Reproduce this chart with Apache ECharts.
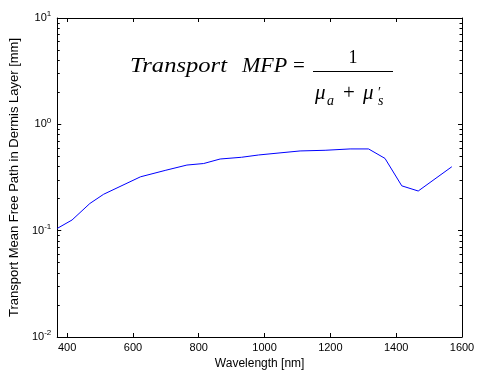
<!DOCTYPE html>
<html>
<head>
<meta charset="utf-8">
<script src="https://cdn.jsdelivr.net/npm/echarts@6/dist/echarts.min.js"></script>
<style>
  html, body { margin: 0; padding: 0; background: #fff; }
  #chart { width: 480px; height: 377px; }
</style>
</head>
<body>
<div id="chart"></div>
<script>
// Transport mean free path in the dermis layer versus wavelength
const wavelengths = [370, 415, 469, 511, 623, 700, 764, 815, 865, 930, 982, 1050, 1108, 1184, 1260, 1316, 1366, 1417, 1467, 1569];
const mfpValues  = [0.105, 0.126, 0.180, 0.220, 0.321, 0.370, 0.414, 0.428, 0.472, 0.490, 0.515, 0.540, 0.562, 0.570, 0.587, 0.587, 0.478, 0.264, 0.236, 0.399];

const xTicks = [400, 600, 800, 1000, 1200, 1400, 1600];
const yMajorTicks = [0.01, 0.1, 1, 10];
const yMinorTicks = [];
[0.01, 0.1, 1].forEach(function (d) {
  for (let k = 2; k <= 9; k++) yMinorTicks.push(+(d * k).toPrecision(3));
});

const FONT = '"Liberation Sans", Arial, Helvetica, sans-serif';
const SERIF = '"Liberation Serif", "Times New Roman", serif';
const black = '#000';

function powLabel(v) {
  const e = Math.round(Math.log10(v));
  return '{b|10}{e|' + e + '}';
}

const line = { show: true, lineStyle: { color: black, width: 1 } };

function yAxisDef(pos, ticks, len, labels, drawLine) {
  return {
    type: 'log', logBase: 10, min: 0.01, max: 10, position: pos,
    gridIndex: 0,
    axisLine: drawLine ? line : { show: false },
    axisTick: { show: true, inside: true, length: len, customValues: ticks, lineStyle: { color: black, width: 1 } },
    axisLabel: labels ? {
      show: true, margin: 6, customValues: yMajorTicks,
      formatter: powLabel,
      rich: {
        b: { fontFamily: FONT, fontSize: 11, color: black },
        e: { fontFamily: FONT, fontSize: 8, color: black, padding: [0, 0, 8, 0] }
      }
    } : { show: false },
    splitLine: { show: false },
    minorTick: { show: false }
  };
}

const chart = echarts.init(document.getElementById('chart'), null, { renderer: 'canvas' });

chart.setOption({
  animation: false,
  backgroundColor: '#fff',
  grid: { left: 57, right: 18, top: 18, bottom: 40, containLabel: false },
  xAxis: [
    {
      type: 'value', min: 370, max: 1600, position: 'bottom',
      name: 'Wavelength [nm]', nameLocation: 'middle', nameGap: 21,
      nameTextStyle: { fontFamily: FONT, fontSize: 12, color: black },
      axisLine: line,
      axisTick: { show: true, inside: true, length: 4, customValues: xTicks, lineStyle: { color: black } },
      axisLabel: {
        show: true, margin: 5, customValues: xTicks,
        formatter: function (v) { return String(v); },
        fontFamily: FONT, fontSize: 11, color: black
      },
      splitLine: { show: false }
    },
    {
      type: 'value', min: 370, max: 1600, position: 'top',
      axisLine: line,
      axisTick: { show: true, inside: true, length: 4, customValues: xTicks, lineStyle: { color: black } },
      axisLabel: { show: false },
      splitLine: { show: false }
    }
  ],
  yAxis: [
    Object.assign(yAxisDef('left', yMajorTicks, 4, true, true), {
      name: 'Transport Mean Free Path in Dermis Layer [mm]',
      nameLocation: 'middle', nameGap: 32,
      nameTextStyle: { fontFamily: FONT, fontSize: 13, color: black }
    }),
    yAxisDef('left', yMinorTicks, 2.5, false, false),
    yAxisDef('right', yMajorTicks, 4, false, true),
    yAxisDef('right', yMinorTicks, 2.5, false, false)
  ],
  series: [{
    type: 'line',
    xAxisIndex: 0, yAxisIndex: 0,
    data: wavelengths.map(function (w, i) { return [w, mfpValues[i]]; }),
    showSymbol: false, symbol: 'none',
    lineStyle: { color: '#0000ff', width: 1 },
    smooth: false
  }],
  graphic: [
    {
      type: 'group',
      children: [
        // left-hand side of the formula
        { type: 'text', x: 130, y: 77, scaleX: 1.17, style: { text: 'Transport', fontFamily: SERIF, fontStyle: 'italic', fontSize: 21, fill: black, textVerticalAlign: 'bottom' } },
        { type: 'text', x: 242, y: 77, scaleX: 1.05, style: { text: 'MFP', fontFamily: SERIF, fontStyle: 'italic', fontSize: 21, fill: black, textVerticalAlign: 'bottom' } },
        { type: 'text', x: 293, y: 77, style: { text: '=', fontFamily: SERIF, fontSize: 21, fill: black, textVerticalAlign: 'bottom' } },
        // fraction
        { type: 'line', shape: { x1: 313, y1: 71.5, x2: 393, y2: 71.5 }, style: { stroke: black, lineWidth: 1 } },
        { type: 'text', x: 353, y: 67, style: { text: '1', fontFamily: SERIF, fontSize: 18, fill: black, textAlign: 'center', textVerticalAlign: 'bottom' } },
        { type: 'text', x: 315, y: 104, style: { text: 'μ', fontFamily: SERIF, fontStyle: 'italic', fontSize: 21, fill: black, textVerticalAlign: 'bottom' } },
        { type: 'text', x: 327, y: 108, style: { text: 'a', fontFamily: SERIF, fontStyle: 'italic', fontSize: 14, fill: black, textVerticalAlign: 'bottom' } },
        { type: 'text', x: 343, y: 104, style: { text: '+', fontFamily: SERIF, fontSize: 21, fill: black, textVerticalAlign: 'bottom' } },
        { type: 'text', x: 363, y: 104, style: { text: 'μ', fontFamily: SERIF, fontStyle: 'italic', fontSize: 21, fill: black, textVerticalAlign: 'bottom' } },
        { type: 'text', x: 378, y: 100, style: { text: '′', fontFamily: SERIF, fontSize: 14, fill: black, textVerticalAlign: 'bottom' } },
        { type: 'text', x: 378, y: 108, style: { text: 's', fontFamily: SERIF, fontStyle: 'italic', fontSize: 14, fill: black, textVerticalAlign: 'bottom' } }
      ]
    }
  ]
});
</script>
</body>
</html>
